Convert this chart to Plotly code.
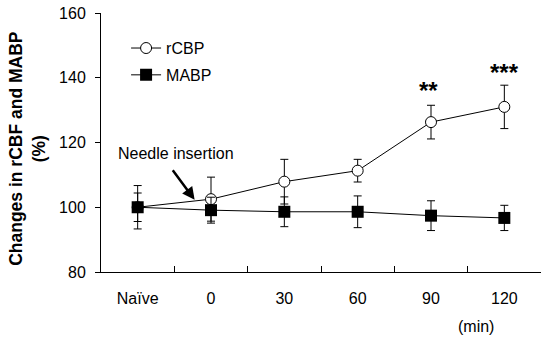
import plotly.graph_objects as go

categories = ["Naïve", "0", "30", "60", "90", "120"]
rcbp = [100, 102.5, 107.9, 111.3, 126.3, 131.0]
rcbp_err = [6.7, 6.8, 6.9, 3.5, 5.2, 6.7]
mabp = [100, 99.1, 98.6, 98.6, 97.4, 96.7]
mabp_err = [4.4, 4.0, 4.6, 4.9, 4.6, 3.9]
yticks = [80, 100, 120, 140, 160]

FONT = "Arial, Liberation Sans, sans-serif"

fig = go.Figure()
fig.add_trace(go.Scatter(
    x=categories, y=rcbp, name="rCBP", mode="lines+markers",
    line=dict(color="black", width=1),
    marker=dict(symbol="circle", size=11, color="white", line=dict(color="black", width=1)),
    error_y=dict(type="data", array=rcbp_err, visible=True, color="black", thickness=1, width=4),
    legendgroup="a",
))
fig.add_trace(go.Scatter(
    x=categories, y=mabp, name="MABP", mode="lines+markers",
    line=dict(color="black", width=1),
    marker=dict(symbol="square", size=12, color="black", line=dict(color="black", width=0)),
    error_y=dict(type="data", array=mabp_err, visible=True, color="black", thickness=1, width=4),
    legendgroup="b",
))

fig.update_layout(
    width=541, height=341,
    margin=dict(l=101, r=0, t=13, b=69),
    paper_bgcolor="white", plot_bgcolor="white",
    font=dict(family=FONT, size=16, color="black"),
    showlegend=True,
    legend=dict(x=0.057, y=0.93, xanchor="left", yanchor="top",
                font=dict(size=16), traceorder="grouped", tracegroupgap=3,
                bgcolor="rgba(0,0,0,0)", itemwidth=30),
    xaxis=dict(type="category", range=[-0.5, 5.5], showline=True, linecolor="black",
               linewidth=1, ticks="inside", ticklen=6, tickcolor="black",
               tickson="boundaries", showgrid=False, zeroline=False,
               ticklabelstandoff=12, tickfont=dict(size=16)),
    yaxis=dict(range=[80, 160], tickvals=yticks, showline=True, linecolor="black",
               linewidth=1, ticks="outside", ticklen=5, tickcolor="black",
               showgrid=False, zeroline=False, ticklabelstandoff=6,
               tickfont=dict(size=16)),
)

fig.add_annotation(xref="paper", yref="paper", x=(28 - 101) / 440, y=(272.3 - 149) / 259.3,
                   text="<b>Changes in rCBF and MABP<br>(%)</b>", textangle=-90,
                   showarrow=False, font=dict(size=17.5), xanchor="center", yanchor="middle")
fig.add_annotation(xref="x", yref="y", x=0.518, y=116.5, text="Needle insertion",
                   showarrow=False, font=dict(size=16))
fig.add_annotation(xref="x", yref="y", x=0.777, y=102.3, text="", showarrow=True,
                   ax=-23, ay=-31, arrowhead=2, arrowsize=1, arrowwidth=2.5,
                   arrowcolor="black", standoff=0)
fig.add_annotation(xref="x", yref="y", x=3.96, y=136.0, text="<b>**</b>",
                   showarrow=False, font=dict(size=24), yanchor="middle")
fig.add_annotation(xref="x", yref="y", x=5, y=141.5, text="<b>***</b>",
                   showarrow=False, font=dict(size=24), yanchor="middle")
fig.add_annotation(xref="paper", yref="paper", x=(496 - 101) / 440, y=(272.3 - 327) / 259.3,
                   text="(min)", showarrow=False, font=dict(size=16), yanchor="middle")

fig.write_html("out.html")
